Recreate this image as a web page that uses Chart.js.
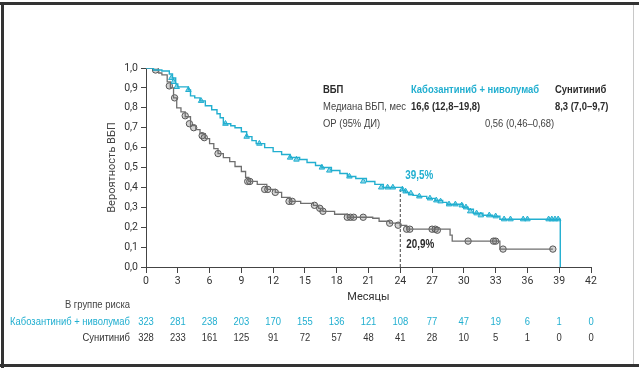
<!DOCTYPE html>
<html lang="ru">
<head>
<meta charset="utf-8">
<title>ВБП</title>
<script src="https://cdn.jsdelivr.net/npm/chart.js@4.4.1/dist/chart.umd.min.js"></script>
<style>
  html, body { margin: 0; padding: 0; background: #fff; }
</style>
</head>
<body>
<canvas id="pfsChart" width="639" height="370"></canvas>
<script>
// Kaplan-Meier curves (months, probability)
const cabTime = [0, 0.7, 1.5, 2.2, 2.5, 2.8, 3.0, 4.0, 4.2, 4.6, 5.1, 5.6, 6.2, 6.7, 7.0, 7.3, 8.0, 8.4, 9.0, 9.5, 10.0, 10.4, 11.2, 12.0, 12.8, 13.6, 14.5, 15.2, 16.0, 16.6, 17.5, 18.3, 19.0, 19.8, 20.8, 21.6, 22.4, 24.2, 24.5, 24.8, 25.2, 25.6, 26.5, 27.3, 28.0, 28.4, 29.9, 30.4, 30.9, 31.8, 32.7, 33.4, 39.1];
const cabSurv = [1.0, 0.99, 0.985, 0.97, 0.95, 0.92, 0.905, 0.89, 0.86, 0.85, 0.835, 0.81, 0.79, 0.77, 0.75, 0.72, 0.71, 0.70, 0.68, 0.655, 0.635, 0.62, 0.60, 0.58, 0.565, 0.55, 0.54, 0.525, 0.51, 0.50, 0.485, 0.47, 0.455, 0.445, 0.43, 0.415, 0.40, 0.385, 0.375, 0.365, 0.36, 0.355, 0.345, 0.335, 0.325, 0.315, 0.30, 0.29, 0.27, 0.26, 0.255, 0.24, 0];

const sunTime = [0, 0.7, 1.2, 1.5, 2.0, 2.3, 2.6, 2.9, 3.3, 3.7, 4.2, 4.7, 5.1, 5.6, 6.0, 6.4, 6.8, 7.3, 7.9, 8.4, 9.0, 9.4, 9.7, 10.5, 11.4, 12.2, 12.8, 13.6, 14.6, 15.8, 16.3, 16.7, 17.8, 19.0, 21.4, 22.0, 23.0, 24.0, 24.6, 28.7, 28.9, 33.4, 38.4];
const sunSurv = [1.0, 0.99, 0.975, 0.965, 0.93, 0.90, 0.85, 0.80, 0.78, 0.755, 0.71, 0.69, 0.67, 0.645, 0.62, 0.595, 0.57, 0.55, 0.53, 0.505, 0.48, 0.45, 0.43, 0.415, 0.39, 0.375, 0.35, 0.33, 0.32, 0.31, 0.295, 0.28, 0.265, 0.25, 0.245, 0.23, 0.22, 0.209, 0.19, 0.16, 0.13, 0.09, 0.09];

// censored observations
const cabCensorTime = [2.4, 2.6, 2.9, 4.0, 5.2, 7.5, 9.5, 10.7, 13.6, 14.2, 16.6, 17.3, 19.2, 20.5, 22.2, 22.8, 23.3, 24.2, 24.5, 25.0, 25.8, 26.8, 27.4, 27.8, 28.6, 29.2, 29.8, 30.2, 30.6, 31.2, 31.6, 32.4, 33.0, 33.8, 34.4, 35.6, 36.0, 38.0, 38.3, 38.6, 38.9];
const cabCensorSurv = [0.95, 0.93, 0.905, 0.89, 0.835, 0.72, 0.655, 0.62, 0.55, 0.54, 0.50, 0.485, 0.455, 0.43, 0.40, 0.40, 0.40, 0.39, 0.38, 0.37, 0.355, 0.345, 0.335, 0.33, 0.315, 0.315, 0.31, 0.30, 0.28, 0.27, 0.26, 0.26, 0.255, 0.24, 0.24, 0.24, 0.24, 0.24, 0.24, 0.24, 0.24];

const sunCensorTime = [0.9, 2.2, 2.7, 3.7, 4.1, 4.5, 5.3, 5.5, 6.8, 9.6, 9.8, 11.2, 11.5, 12.2, 13.5, 13.8, 15.9, 16.4, 16.7, 19.0, 19.3, 19.6, 20.5, 23.0, 23.8, 24.6, 24.9, 27.0, 27.3, 27.5, 30.4, 32.8, 33.0, 33.7, 38.4];
const sunCensorSurv = [0.99, 0.91, 0.85, 0.76, 0.72, 0.70, 0.66, 0.65, 0.57, 0.43, 0.43, 0.39, 0.39, 0.375, 0.33, 0.33, 0.31, 0.295, 0.28, 0.25, 0.25, 0.25, 0.25, 0.22, 0.21, 0.19, 0.19, 0.19, 0.19, 0.185, 0.13, 0.13, 0.13, 0.09, 0.09];

// 24-month landmark
const landmarkMonth = 24;
const landmarkCab = 0.395;
const landmarkSun = 0.209;
const landmarkCabLabel = '39,5%';
const landmarkSunLabel = '20,9%';

// number at risk
const riskMonths = [0, 3, 6, 9, 12, 15, 18, 21, 24, 27, 30, 33, 36, 39, 42];
const riskCab = [323, 281, 238, 203, 170, 155, 136, 121, 108, 77, 47, 19, 6, 1, 0];
const riskSun = [328, 233, 161, 125, 91, 72, 57, 48, 41, 28, 10, 5, 1, 0, 0];

const cabName = 'Кабозантиниб + ниволумаб';
const sunName = 'Сунитиниб';

const CYAN = '#22afd0';
const GREY = '#6f6f6f';
const DARK = '#2b2b2b';
const AXIS_FONT = "Roboto, 'Liberation Sans', sans-serif";
const TEXT_FONT = "'Liberation Sans', Arial, sans-serif";
const SQUEEZE = 0.82; // the original uses a condensed face

const toPoints = (xs, ys) => xs.map((t, i) => ({ x: t, y: ys[i] }));
const comma = v => String(v).replace('.', ',');

// draw text squeezed horizontally to imitate a condensed font
function narrowText(ctx, text, x, y, align) {
    ctx.save();
    ctx.translate(x, y);
    ctx.scale(SQUEEZE, 1);
    ctx.textAlign = align;
    ctx.fillText(text, 0, 0);
    ctx.restore();
}

const textPlugin = {
    id: 'pfsText',
    afterDraw(chart) {
        const ctx = chart.ctx;
        const xs = chart.scales.x;
        const ys = chart.scales.y;
        ctx.save();

        // frame round the figure
        ctx.fillStyle = '#333';
        ctx.fillRect(0, 2, 639, 3);
        ctx.fillRect(1, 2, 3, 366);
        ctx.fillRect(0, 364, 639, 3);
        ctx.fillStyle = '#c8c8c8';
        ctx.fillRect(633, 5, 1, 359);

        // summary block
        ctx.textBaseline = 'middle';
        ctx.font = 'bold 11.5px ' + TEXT_FONT;
        ctx.fillStyle = DARK;
        narrowText(ctx, 'ВБП', 323, 90, 'left');
        ctx.fillStyle = CYAN;
        narrowText(ctx, cabName, 411, 90, 'left');
        ctx.fillStyle = DARK;
        narrowText(ctx, sunName, 555, 90, 'left');
        narrowText(ctx, '16,6 (12,8–19,8)', 411, 107, 'left');
        narrowText(ctx, '8,3 (7,0–9,7)', 555, 107, 'left');
        ctx.font = '11.5px ' + TEXT_FONT;
        ctx.fillStyle = '#444';
        narrowText(ctx, 'Медиана ВБП, мес', 323, 107, 'left');
        narrowText(ctx, 'ОР (95% ДИ)', 323, 124, 'left');
        narrowText(ctx, '0,56 (0,46–0,68)', 485, 124, 'left');

        // landmark labels
        ctx.font = 'bold 12px ' + TEXT_FONT;
        ctx.fillStyle = CYAN;
        narrowText(ctx, landmarkCabLabel, xs.getPixelForValue(landmarkMonth) + 5, ys.getPixelForValue(landmarkCab + 0.065), 'left');
        ctx.fillStyle = DARK;
        narrowText(ctx, landmarkSunLabel, xs.getPixelForValue(landmarkMonth) + 6, ys.getPixelForValue(landmarkSun - 0.095), 'left');

        // number at risk table
        ctx.font = '11.5px ' + TEXT_FONT;
        ctx.fillStyle = '#444';
        narrowText(ctx, 'В группе риска', 130, 305, 'right');
        ctx.fillStyle = CYAN;
        narrowText(ctx, cabName, 130, 322, 'right');
        ctx.fillStyle = '#333';
        narrowText(ctx, sunName, 130, 338, 'right');
        riskMonths.forEach((m, i) => {
            const px = xs.getPixelForValue(m);
            ctx.fillStyle = CYAN;
            narrowText(ctx, String(riskCab[i]), px, 322, 'center');
            ctx.fillStyle = '#333';
            narrowText(ctx, String(riskSun[i]), px, 338, 'center');
        });
        ctx.restore();
    }
};

new Chart(document.getElementById('pfsChart').getContext('2d'), {
    type: 'line',
    data: {
        datasets: [
            {
                label: cabName,
                data: toPoints(cabTime, cabSurv),
                borderColor: CYAN,
                borderWidth: 1.4,
                stepped: true,
                pointRadius: 0,
                fill: false
            },
            {
                label: sunName,
                data: toPoints(sunTime, sunSurv),
                borderColor: GREY,
                borderWidth: 1.3,
                stepped: true,
                pointRadius: 0,
                fill: false
            },
            {
                label: 'cab censored',
                data: toPoints(cabCensorTime, cabCensorSurv),
                showLine: false,
                pointStyle: 'triangle',
                pointRadius: 3.2,
                pointBorderWidth: 1,
                pointBorderColor: CYAN,
                pointBackgroundColor: 'rgba(34,175,208,0.55)'
            },
            {
                label: 'sun censored',
                data: toPoints(sunCensorTime, sunCensorSurv),
                showLine: false,
                pointStyle: 'circle',
                pointRadius: 3.2,
                pointBorderWidth: 1,
                pointBorderColor: '#555',
                pointBackgroundColor: 'rgba(110,110,110,0.3)'
            },
            {
                label: '24 mo',
                data: [{ x: landmarkMonth, y: 0 }, { x: landmarkMonth, y: landmarkCab }],
                borderColor: '#444',
                borderWidth: 1,
                borderDash: [3, 2],
                pointRadius: 0,
                fill: false
            }
        ]
    },
    options: {
        responsive: false,
        animation: false,
        layout: { padding: { left: 104, right: 48, top: 68, bottom: 64 } },
        plugins: {
            legend: { display: false },
            tooltip: { enabled: false }
        },
        scales: {
            x: {
                type: 'linear',
                min: 0,
                max: 42,
                afterFit: s => { s.height = 39; },
                grid: { drawOnChartArea: false, tickLength: 6, color: '#444' },
                border: { color: '#444', width: 1 },
                ticks: {
                    stepSize: 3,
                    autoSkip: false,
                    maxRotation: 0,
                    padding: 2,
                    color: '#333',
                    font: { family: AXIS_FONT, size: 10.5 }
                },
                title: {
                    display: true,
                    text: 'Месяцы',
                    color: '#333',
                    padding: { top: 0, bottom: 2 },
                    font: { family: AXIS_FONT, size: 11 }
                }
            },
            y: {
                min: 0,
                max: 1,
                afterFit: s => { s.width = 42; },
                grid: { drawOnChartArea: false, tickLength: 5, color: '#444' },
                border: { color: '#444', width: 1 },
                ticks: {
                    stepSize: 0.1,
                    padding: 3,
                    color: '#333',
                    font: { family: AXIS_FONT, size: 10.5 },
                    callback: v => comma(Number(v).toFixed(1))
                },
                title: {
                    display: true,
                    text: 'Вероятность ВБП',
                    color: '#444',
                    padding: { top: 2, bottom: 0 },
                    font: { family: AXIS_FONT, size: 11 }
                }
            }
        }
    },
    plugins: [textPlugin]
});
</script>
</body>
</html>
